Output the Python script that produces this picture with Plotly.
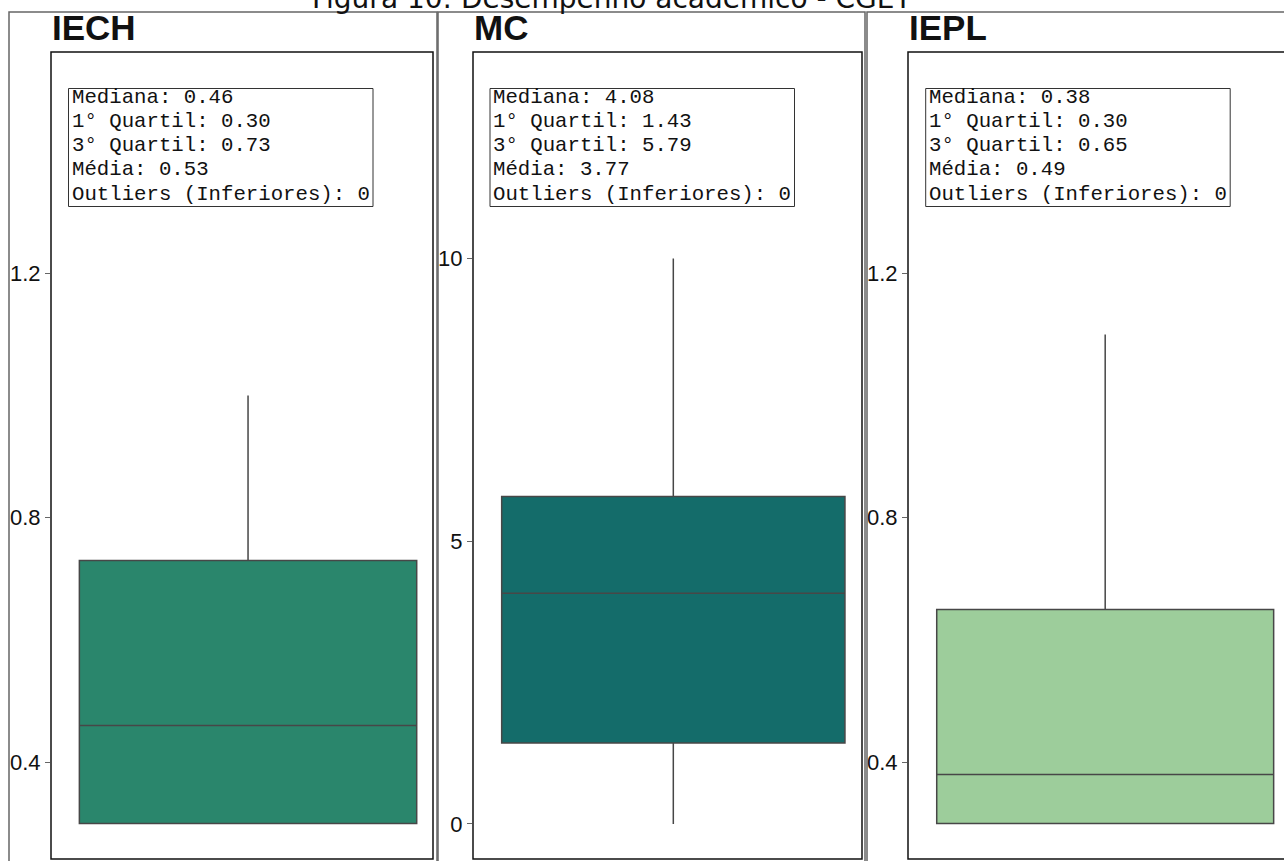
import plotly.graph_objects as go

# ---------------- data ----------------
categories = ["IECH", "MC", "IEPL"]
q1_vals = [0.30, 1.43, 0.30]
median_vals = [0.46, 4.08, 0.38]
q3_vals = [0.73, 5.79, 0.65]
mean_vals = [0.53, 3.77, 0.49]
lower_fence = [0.30, 0.0, 0.30]
upper_fence = [1.00, 10.0, 1.10]
outliers_inf = [0, 0, 0]
box_colors = ["#2a866c", "#146c6a", "#9dcd9b"]
title_text = "Figura 10: Desempenho acadêmico - CGET"

# ---------------- geometry (pixels) ----------------
W, H = 1284, 861


def px(x):
    return x / W


def py(y):
    return 1 - y / H


inner = [(51, 433), (473, 862), (908, 1284)]
inner_frame_right = [433, 862, 1300]
outer = [(9, 437), (438, 865), (867, 1300)]
y_ranges = [[0.2418, 1.562], [-0.619, 13.65], [0.2418, 1.562]]
x_ranges = [[-0.514, 0.4825], [-0.5135, 0.4837], [-0.515, 0.467]]
dticks = [0.4, 5, 0.4]
stat_box_left = [68.5, 490, 925.7]
stat_box_w = 304.5
title_left = [50, 472, 907]
top, bottom = 52, 859

fig = go.Figure()
layout = dict(
    width=W, height=H, autosize=False,
    margin=dict(l=0, r=0, t=0, b=0),
    paper_bgcolor="white", plot_bgcolor="white",
    showlegend=False,
)

shapes = []
annotations = []

for i, cat in enumerate(categories):
    sfx = "" if i == 0 else str(i + 1)
    xa, ya = "x" + sfx, "y" + sfx
    fig.add_trace(go.Box(
        x=[0], q1=[q1_vals[i]], median=[median_vals[i]], q3=[q3_vals[i]],
        lowerfence=[lower_fence[i]], upperfence=[upper_fence[i]],
        orientation="v", width=0.88, whiskerwidth=0, boxpoints=False,
        fillcolor=box_colors[i], line=dict(color="#474747", width=1.5),
        name=cat, xaxis=xa, yaxis=ya, hoverinfo="skip",
    ))
    layout["xaxis" + sfx] = dict(
        domain=[px(inner[i][0]), px(inner[i][1])], range=x_ranges[i],
        showticklabels=False, showgrid=False, zeroline=False, ticks="",
        showline=False, anchor=ya, fixedrange=True,
    )
    layout["yaxis" + sfx] = dict(
        domain=[py(bottom), py(top)], range=y_ranges[i],
        tick0=0, dtick=dticks[i], ticks="outside", ticklen=5,
        tickcolor="#666666", tickwidth=1,
        tickfont=dict(family="Arial, Liberation Sans, sans-serif", size=22, color="#111111"),
        showgrid=False, zeroline=False, showline=False, anchor=xa,
        fixedrange=True,
    )
    # outer panel frame
    shapes.append(dict(type="rect", xref="paper", yref="paper",
                       x0=px(outer[i][0]), x1=px(outer[i][1]),
                       y0=py(920), y1=py(12),
                       line=dict(color="#666666", width=1.5), layer="above"))
    # inner plot frame
    shapes.append(dict(type="rect", xref="paper", yref="paper",
                       x0=px(inner[i][0]), x1=px(inner_frame_right[i]),
                       y0=py(bottom), y1=py(top),
                       line=dict(color="#111111", width=1.5), layer="above"))
    # panel title
    annotations.append(dict(
        text="<b>%s</b>" % cat, xref="paper", yref="paper",
        x=px(title_left[i]), y=py(28), xanchor="left", yanchor="middle",
        showarrow=False,
        font=dict(family="Arial, Liberation Sans, sans-serif", size=35, color="#111111"),
    ))
    # stats box
    bl = stat_box_left[i]
    shapes.append(dict(type="rect", xref="paper", yref="paper",
                       x0=px(bl), x1=px(bl + stat_box_w), y0=py(206.5), y1=py(88.5),
                       line=dict(color="#333333", width=1), fillcolor="white",
                       layer="above"))
    lines = [
        "Mediana: %.2f" % median_vals[i],
        "1° Quartil: %.2f" % q1_vals[i],
        "3° Quartil: %.2f" % q3_vals[i],
        "Média: %.2f" % mean_vals[i],
        "Outliers (Inferiores): %d" % outliers_inf[i],
    ]
    for k, ln in enumerate(lines):
        annotations.append(dict(
            text=ln, xref="paper", yref="paper",
            x=px(bl + 1), y=py(98 + 24 * k), xanchor="left", yanchor="middle",
            showarrow=False,
            font=dict(family="Courier New, Liberation Mono, monospace", size=20.7, color="#111111"),
        ))

annotations.append(dict(
    text=title_text, xref="paper", yref="paper",
    x=px(612), y=py(-2), xanchor="center", yanchor="middle", showarrow=False,
    font=dict(family="DejaVu Sans, sans-serif", size=28, color="#111111"),
))

layout["shapes"] = shapes
layout["annotations"] = annotations
fig.update_layout(**layout)
fig.write_html(
    "out.html",
    config={"displayModeBar": False, "staticPlot": True},
    post_script="document.body.style.margin='0px';document.body.style.overflow='hidden';",
)
